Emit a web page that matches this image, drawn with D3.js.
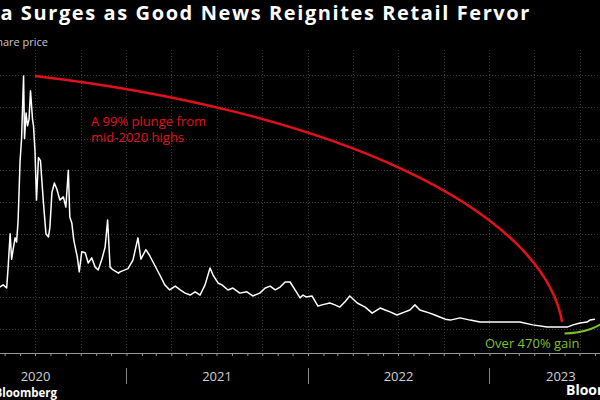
<!DOCTYPE html>
<html><head><meta charset="utf-8">
<script src="https://cdn.jsdelivr.net/npm/d3@7"></script>
<style>
html,body{margin:0;padding:0;background:#000;}
svg{display:block;}
</style></head>
<body>
<svg id="chart" width="600" height="400"></svg>
<script>
// ---- data ----
const dates = ["2020-04-01","2020-04-21","2020-04-28","2020-05-05","2020-05-08","2020-05-12","2020-05-15","2020-05-18","2020-05-22","2020-05-25","2020-05-28","2020-06-01","2020-06-04","2020-06-08","2020-06-10","2020-06-13","2020-06-16","2020-06-19","2020-06-22","2020-06-26","2020-06-28","2020-07-01","2020-07-04","2020-07-08","2020-07-12","2020-07-18","2020-07-23","2020-07-28","2020-07-31","2020-08-04","2020-08-09","2020-08-14","2020-08-20","2020-08-27","2020-09-01","2020-09-06","2020-09-09","2020-09-13","2020-09-17","2020-09-24","2020-09-28","2020-10-03","2020-10-10","2020-10-16","2020-10-23","2020-10-30","2020-11-05","2020-11-12","2020-11-19","2020-11-24","2020-11-29","2020-12-05","2020-12-16","2020-12-19","2021-01-04","2021-01-14","2021-01-24","2021-01-30","2021-02-09","2021-02-17","2021-02-27","2021-03-09","2021-03-19","2021-03-29","2021-04-09","2021-04-19","2021-04-29","2021-05-09","2021-05-19","2021-05-29","2021-06-08","2021-06-18","2021-06-24","2021-07-04","2021-07-12","2021-07-24","2021-08-03","2021-08-17","2021-08-31","2021-09-12","2021-09-26","2021-10-07","2021-10-17","2021-10-27","2021-11-06","2021-11-16","2021-11-26","2021-12-06","2021-12-16","2021-12-22","2021-12-28","2022-01-09","2022-01-21","2022-01-29","2022-02-14","2022-02-24","2022-03-06","2022-03-16","2022-03-26","2022-04-10","2022-04-26","2022-05-10","2022-05-26","2022-06-05","2022-06-15","2022-06-29","2022-07-15","2022-07-25","2022-08-04","2022-08-14","2022-09-03","2022-09-13","2022-09-23","2022-10-04","2022-10-14","2022-11-03","2022-11-23","2022-12-13","2023-01-02","2023-02-05","2023-03-03","2023-03-29","2023-04-27","2023-05-23","2023-06-06","2023-06-18","2023-07-02","2023-07-16","2023-07-22","2023-08-01"];
const prices = [12.0,13.2,13.9,12.9,19.5,30.0,22.0,25.0,28.7,27.4,34.0,53.0,60.0,79.7,60.0,68.0,64.0,66.0,75.0,66.0,64.0,56.0,40.6,54.0,53.0,39.7,30.0,29.0,32.0,43.0,46.0,44.0,40.6,41.6,38.4,50.0,35.3,33.4,28.0,22.7,18.0,24.3,24.0,20.8,22.4,19.5,18.6,21.7,25.8,34.3,19.5,18.6,17.6,18.0,19.0,21.7,28.7,22.0,25.0,23.0,20.0,17.0,13.9,12.3,13.5,12.3,11.3,10.7,11.7,10.7,13.9,19.2,17.0,14.5,13.9,12.3,12.9,11.3,11.7,10.4,11.3,12.9,13.5,12.3,13.2,14.8,14.8,12.3,9.8,10.7,10.1,10.4,7.2,7.6,8.2,7.6,6.9,8.5,10.4,8.2,6.9,5.0,6.6,6.0,5.4,4.4,5.4,6.0,7.6,6.0,5.0,4.4,3.8,3.1,2.8,3.5,2.8,2.2,2.2,2.2,2.2,1.3,0.6,0.6,0.6,1.3,1.9,2.2,2.8,3.1];
const yTicks = [0,10,20,30,40,50,60,70,80];
const yearLabels = ["2020","2021","2022","2023"];
const titleText = "Nikola Surges as Good News Reignites Retail Fervor";
const subtitleText = "Share price";
const plungeLabel = ["A 99% plunge from","mid-2020 highs"];
const gainLabel = "Over 470% gain";
const sourceText = "Bloomberg";

// ---- setup ----
const parse = d3.timeParse("%Y-%m-%d");
const data = dates.map((d,i)=>({date:parse(d), value:prices[i]}));
const svg = d3.select("#chart");
const W = 600, H = 400;
const plotTop = 50, axisY = 353;
const FONT = "Open Sans, sans-serif";

const x = d3.scaleTime()
  .domain([new Date(2020,0,1), new Date(2024,0,1)])
  .range([-55.5, 671]);
const y = d3.scaleLinear().domain([0,80]).range([329,75]);

svg.append("rect").attr("width",W).attr("height",H).attr("fill","#000");

// gridlines horizontal
svg.append("g").selectAll("line").data(yTicks).join("line")
  .attr("x1",0).attr("x2",W)
  .attr("y1",d=>Math.round(y(d))+0.5).attr("y2",d=>Math.round(y(d))+0.5)
  .attr("stroke","#3a3a3a").attr("stroke-width",1)
  .attr("stroke-dasharray","1,2");

// gridlines vertical (quarterly)
const quarters = d3.timeMonth.every(3).range(new Date(2020,0,1), new Date(2024,0,2));
svg.append("g").selectAll("line").data(quarters).join("line")
  .attr("x1",d=>Math.round(x(d))+0.5).attr("x2",d=>Math.round(x(d))+0.5)
  .attr("y1",plotTop).attr("y2",axisY)
  .attr("stroke","#3a3a3a").attr("stroke-width",1)
  .attr("stroke-dasharray","1,2");

// x axis: line + monthly ticks
const xAxis = d3.axisBottom(x)
  .ticks(d3.timeMonth.every(1))
  .tickSize(3).tickSizeOuter(0).tickFormat("");
const gx = svg.append("g").attr("transform",`translate(0,${axisY})`).call(xAxis);
gx.select(".domain").attr("stroke","#999").attr("d",`M0,0.5H${W}`);
gx.selectAll(".tick line").attr("stroke","#999");

// year separators
const years = d3.timeYear.range(new Date(2020,0,1), new Date(2024,0,2));
svg.append("g").selectAll("line").data(years).join("line")
  .attr("x1",d=>Math.round(x(d))+0.5).attr("x2",d=>Math.round(x(d))+0.5)
  .attr("y1",368).attr("y2",384)
  .attr("stroke","#888").attr("stroke-width",1);

// year labels (last year centred in its visible span)
const xEnd = x(new Date(2023,9,15));
svg.append("g").selectAll("text").data(yearLabels).join("text")
  .attr("x",(d,i)=> i===yearLabels.length-1
      ? (x(new Date(+d,0,1))+xEnd)/2
      : x(new Date(+d,6,2)))
  .attr("y",381)
  .attr("text-anchor","middle")
  .attr("fill","#d0d0d0")
  .attr("font-family",FONT)
  .attr("font-size",13)
  .text(d=>d);

// price line
const line = d3.line().x(d=>x(d.date)).y(d=>y(d.value)).curve(d3.curveLinear);
svg.append("path").datum(data)
  .attr("d",line).attr("fill","none")
  .attr("stroke","#ffffff").attr("stroke-width",1.5)
  .attr("stroke-linejoin","round");

// red arc annotation: from mid-2020 high to mid-2023 low
const peak = data.reduce((a,b)=>b.value>a.value?b:a);
const x0 = x(new Date(2020,6,1)), y0 = y(peak.value);
const x1 = x(new Date(2023,4,27)), y1 = y(2.2);
svg.append("path")
  .attr("d",`M${x0},${y0} A764,277 0 0 1 ${x1},${y1}`)
  .attr("fill","none").attr("stroke","#e3101c").attr("stroke-width",2.5);

// green arc
const gx0 = x(new Date(2023,5,1)), gy0 = y(-1.4);
const gx1 = x(new Date(2023,7,25)), gy1 = y(3.2);
svg.append("path")
  .attr("d",`M${gx0},${gy0} A48,24 0 0 0 ${gx1},${gy1}`)
  .attr("fill","none").attr("stroke","#7dc12b").attr("stroke-width",2);

// annotation texts
const pl = svg.append("text")
  .attr("fill","#e3101c").attr("font-family",FONT).attr("font-size",13);
pl.selectAll("tspan").data(plungeLabel).join("tspan")
  .attr("x",91).attr("y",(d,i)=>126+i*16).text(d=>d);

svg.append("text")
  .attr("x",485).attr("y",348)
  .attr("fill","#7dc12b").attr("font-family",FONT).attr("font-size",13)
  .text(gainLabel);

// title & subtitle
svg.append("text")
  .attr("x",531).attr("y",20)
  .attr("text-anchor","end")
  .attr("fill","#fff").attr("font-family",FONT)
  .attr("font-weight","bold").attr("font-size",20)
  .attr("letter-spacing",1.6)
  .text(titleText);

svg.append("text")
  .attr("x",48).attr("y",46)
  .attr("text-anchor","end")
  .attr("fill","#c8c8c8").attr("font-family",FONT)
  .attr("font-size",11)
  .text(subtitleText);

// source
svg.append("text")
  .attr("x",57).attr("y",397)
  .attr("text-anchor","end")
  .attr("fill","#fff").attr("font-family",FONT)
  .attr("font-weight","bold").attr("font-size",11.5)
  .text(sourceText);

svg.append("text")
  .attr("x",566).attr("y",395)
  .attr("fill","#fff").attr("font-family",FONT)
  .attr("font-weight","bold").attr("font-size",14)
  .text(sourceText);
</script>
</body></html>
